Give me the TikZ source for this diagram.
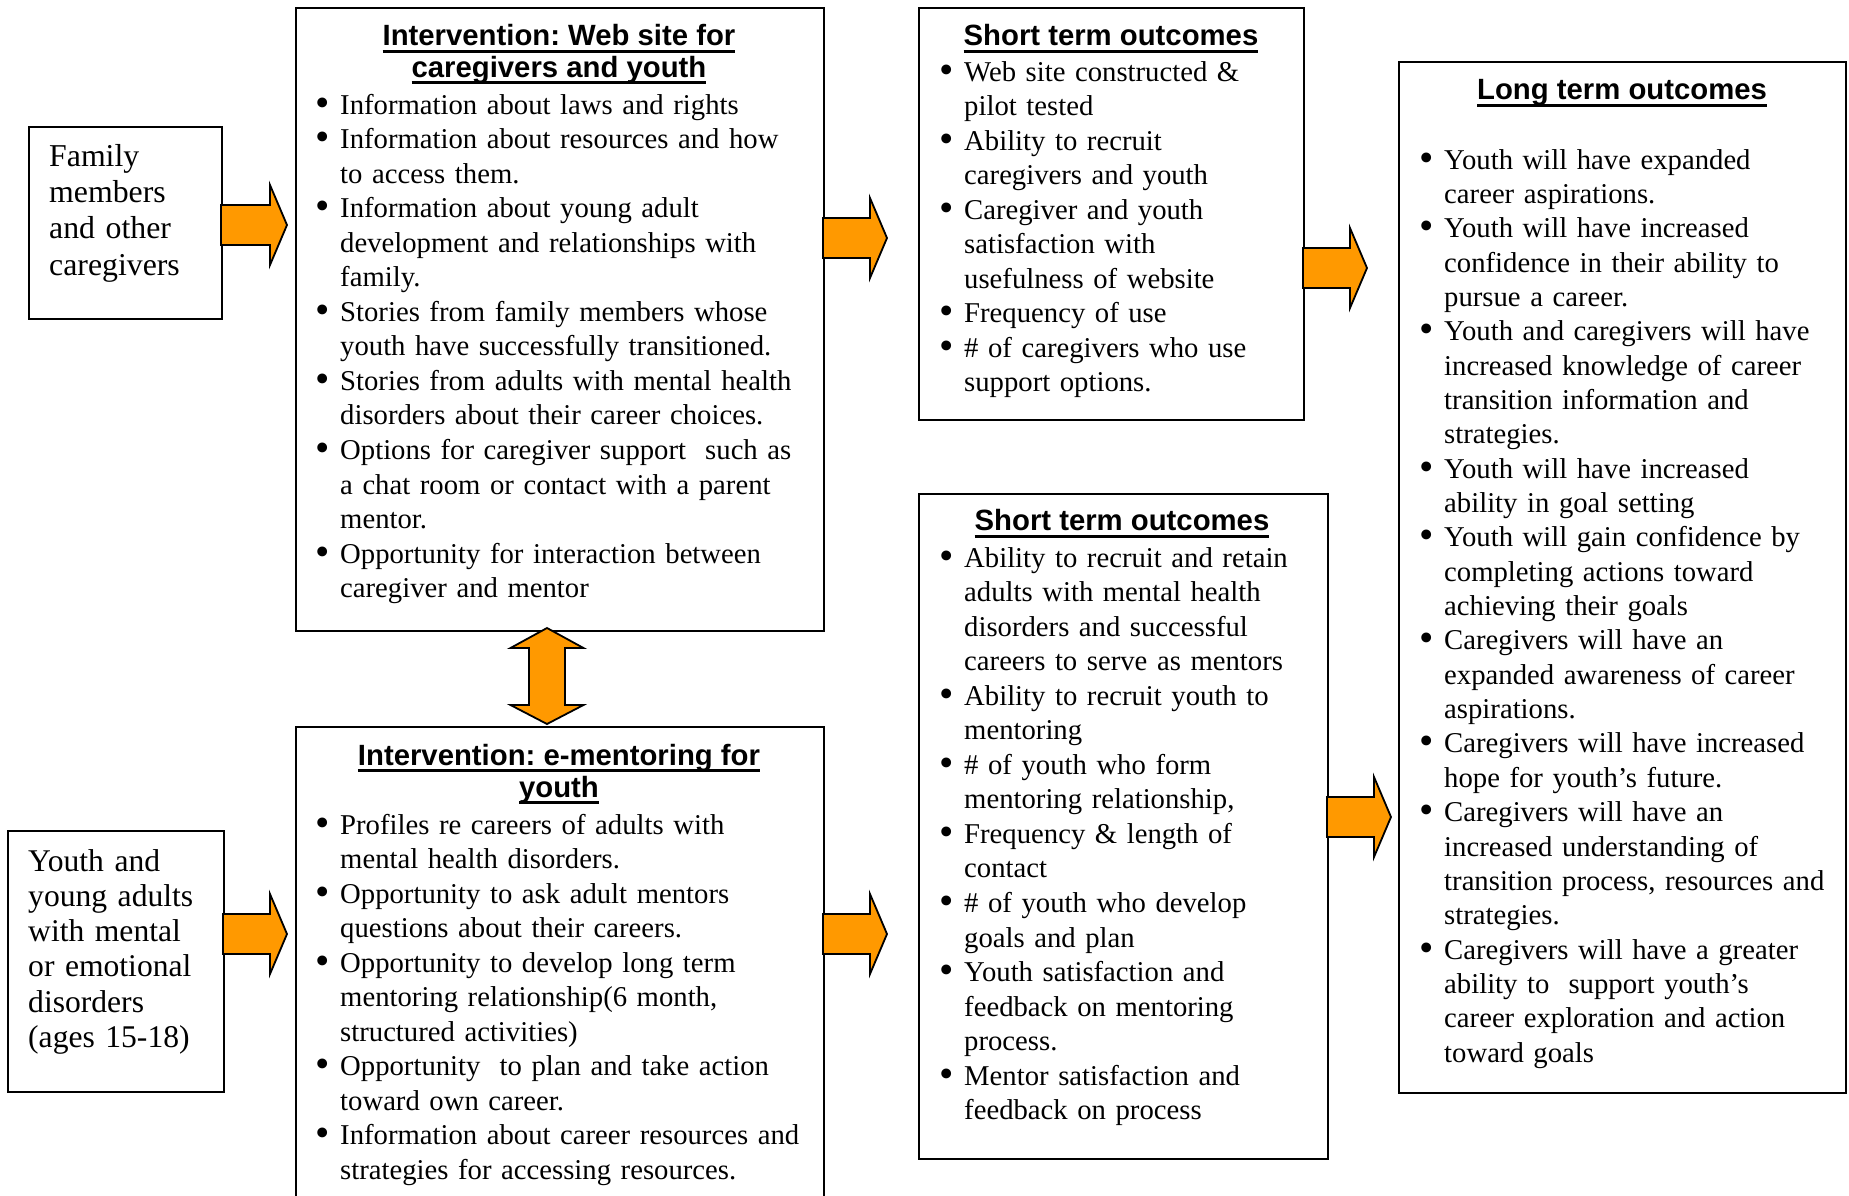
\documentclass[tikz,border=0pt]{standalone}
\usepackage{fontspec}
\setmainfont{Liberation Serif}
\newfontfamily\hdfont{Liberation Sans}
\definecolor{arrorange}{RGB}{255,153,0}
\frenchspacing
\newlength\hind
\setlength\hind{25pt}
\newcommand\bul{\smash{\fontsize{41}{41}\selectfont\raisebox{-2pt}{•}}}
\newcommand\nl{\hfil\break}
\newcommand\itm[1]{\noindent\hangindent=\hind\hangafter=1\makebox[\hind][l]{\bul}#1\par}
\newcommand\hul[1]{\setbox0\hbox{#1}\rlap{\rule[-7pt]{\wd0}{3pt}}\box0}
\newcommand\rarrow[3]{\draw[barrow] (#1,#2-20) -- (#1+#3-17,#2-20) -- (#1+#3-17,#2-40) -- (#1+#3,#2) -- (#1+#3-17,#2+40) -- (#1+#3-17,#2+20) -- (#1,#2+20) -- cycle;}
\tikzset{
  box/.style={draw, line width=2.4pt, fill=white, inner sep=0pt, anchor=north west},
  barrow/.style={draw, line width=1.8pt, fill=arrorange, line join=miter},
  hd/.style={anchor=base, inner sep=0pt, font=\hdfont\bfseries\fontsize{29.3}{30}\selectfont},
  bodytxt/.style={anchor=base west, inner sep=0pt, text width=520pt, font=\fontsize{28.7}{34.55}\selectfont},
  sidetxt/.style={anchor=base west, inner sep=0pt, text width=200pt, align=left}
}
\begin{document}
\begin{tikzpicture}[x=1pt,y=-1pt]
\useasboundingbox[fill=white] (0,0) rectangle (1849,1195);
% boxes
\node[box, minimum width=193pt, minimum height=192pt] (fam) at (28,126) {};
\node[box, minimum width=216pt, minimum height=261pt] (youth) at (7,830) {};
\node[box, minimum width=528pt, minimum height=623pt] (web) at (295,7) {};
\node[box, minimum width=528pt, minimum height=471pt] (em) at (295,726) {};
\node[box, minimum width=385pt, minimum height=412pt] (st1) at (918,7) {};
\node[box, minimum width=409pt, minimum height=665pt] (st2) at (918,493) {};
\node[box, minimum width=447pt, minimum height=1031pt] (lt) at (1398,61) {};
% side texts
\node[sidetxt, font=\fontsize{31.8}{36.2}\selectfont] (famt) at (49,166.5) {Family\\members\\and other\\caregivers};
\node[sidetxt, font=\fontsize{31.6}{35.3}\selectfont] (youtht) at (28,871) {Youth and\\young adults\\with mental\\or emotional\\disorders\\(ages 15-18)};
% headings
\node[hd] (webh1) at (559,45.5) {\hul{Intervention: Web site for}};
\node[hd] (webh2) at (559,77) {\hul{caregivers and youth}};
\node[hd] (st1h) at (1111,45.5) {\hul{Short term outcomes}};
\node[hd] (lth) at (1622,99.5) {\hul{Long term outcomes}};
\node[hd] (st2h) at (1122,530.5) {\hul{Short term outcomes}};
\node[hd] (emh1) at (559,765) {\hul{Intervention: e-mentoring for}};
\node[hd] (emh2) at (559,797) {\hul{youth}};
% body texts
\node[bodytxt] (webt) at (315,114) {%
\itm{Information about laws and rights}%
\itm{Information about resources and how\nl to access them.}%
\itm{Information about young adult\nl development and relationships with\nl family.}%
\itm{Stories from family members whose\nl youth have successfully transitioned.}%
\itm{Stories from adults with mental health\nl disorders about their career choices.}%
\itm{Options for caregiver support\ \ such as\nl a chat room or contact with a parent\nl mentor.}%
\itm{Opportunity for interaction between\nl caregiver and mentor}};
\node[bodytxt] (st1t) at (939,81) {%
\itm{Web site constructed \&\nl pilot tested}%
\itm{Ability to recruit\nl caregivers and youth}%
\itm{Caregiver and youth\nl satisfaction with\nl usefulness of website}%
\itm{Frequency of use}%
\itm{\# of caregivers who use\nl support options.}};
\node[bodytxt, font=\fontsize{28.7}{34.35}\selectfont] (ltt) at (1419,169) {%
\itm{Youth will have expanded\nl career aspirations.}%
\itm{Youth will have increased\nl confidence in their ability to\nl pursue a career.}%
\itm{Youth and caregivers will have\nl increased knowledge of career\nl transition information and\nl strategies.}%
\itm{Youth will have increased\nl ability in goal setting}%
\itm{Youth will gain confidence by\nl completing actions toward\nl achieving their goals}%
\itm{Caregivers will have an\nl expanded awareness of career\nl aspirations.}%
\itm{Caregivers will have increased\nl hope for youth’s future.}%
\itm{Caregivers will have an\nl increased understanding of\nl transition process, resources and\nl strategies.}%
\itm{Caregivers will have a greater\nl ability to\ \ support youth’s\nl career exploration and action\nl toward goals}};
\node[bodytxt] (st2t) at (939,567) {%
\itm{Ability to recruit and retain\nl adults with mental health\nl disorders and successful\nl careers to serve as mentors}%
\itm{Ability to recruit youth to\nl mentoring}%
\itm{\# of youth who form\nl mentoring relationship,}%
\itm{Frequency \& length of\nl contact}%
\itm{\# of youth who develop\nl goals and plan}%
\itm{Youth satisfaction and\nl feedback on mentoring\nl process.}%
\itm{Mentor satisfaction and\nl feedback on process}};
\node[bodytxt] (emt) at (315,834) {%
\itm{Profiles re careers of adults with\nl mental health disorders.}%
\itm{Opportunity to ask adult mentors\nl questions about their careers.}%
\itm{Opportunity to develop long term\nl mentoring relationship(6 month,\nl structured activities)}%
\itm{Opportunity\ \ to plan and take action\nl toward own career.}%
\itm{Information about career resources and\nl strategies for accessing resources.}};
% block arrows
\rarrow{221}{225}{66}
\rarrow{223}{934}{64}
\rarrow{823}{238}{64}
\rarrow{823}{934}{64}
\rarrow{1303}{268}{64}
\rarrow{1327}{817}{64}
\draw[barrow] (547,628) -- (583.5,648) -- (565,648) -- (565,705) -- (583.5,705) -- (547,724) -- (510.5,705) -- (529,705) -- (529,648) -- (510.5,648) -- cycle;
\end{tikzpicture}
\end{document}
